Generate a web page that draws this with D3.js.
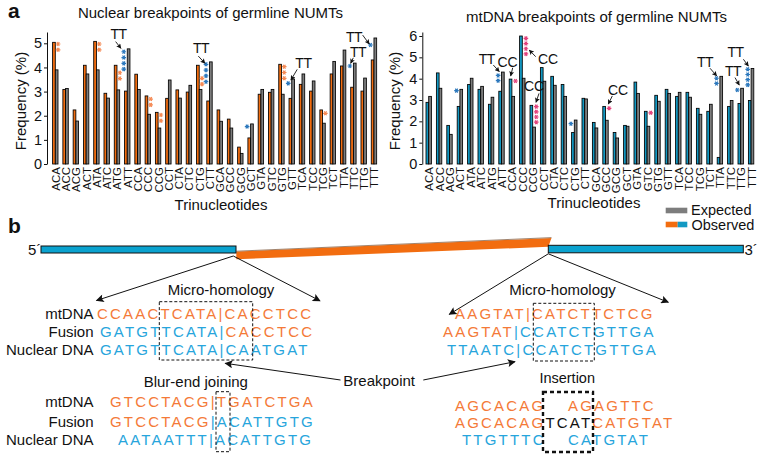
<!DOCTYPE html>
<html><head><meta charset="utf-8">
<script src="https://cdn.jsdelivr.net/npm/d3@7"></script>
<style>
body{margin:0;background:#fff;}
svg{display:block;font-family:"Liberation Sans",Arial,Helvetica,sans-serif;}
</style></head><body>
<svg id="c" width="765" height="461"></svg>
<script>
// ---------- DATA ----------
const categories = ["ACA","ACC","ACG","ACT","ATA","ATC","ATG","ATT","CCA","CCC","CCG","CCT","CTA","CTC","CTG","CTT","GCA","GCC","GCG","GCT","GTA","GTC","GTG","GTT","TCA","TCC","TCG","TCT","TTA","TTC","TTG","TTT"];
const nuclearObserved = [5.04,3.09,2.24,4.09,5.08,2.93,4.09,3.02,3.72,2.82,2.14,2.72,3.07,2.98,4.09,2.61,2.24,1.86,0.70,1.08,2.89,2.97,4.13,2.72,3.30,3.02,2.24,3.73,4.06,3.18,3.02,4.31];
const nuclearExpected = [3.90,3.13,1.78,3.73,3.90,2.73,3.07,4.77,3.09,2.06,1.49,3.48,2.73,3.26,3.09,4.23,1.77,1.49,0.44,1.66,3.09,3.09,2.89,3.52,3.73,3.44,1.69,4.25,4.72,4.18,3.56,5.22];
const mtObserved = [2.89,4.27,1.81,2.70,3.73,3.50,2.80,3.41,3.98,6.00,2.75,4.52,4.11,3.73,1.48,3.08,1.95,2.70,1.48,1.81,3.84,2.47,3.22,3.50,3.17,3.36,2.61,2.47,0.31,2.70,2.84,2.98];
const mtExpected = [3.17,3.55,1.39,3.50,4.02,3.64,3.13,4.31,3.17,4.02,1.73,3.88,3.69,3.17,2.06,3.05,1.69,2.05,1.22,1.77,3.31,1.77,2.94,3.31,3.36,3.13,2.33,2.80,4.11,2.98,3.55,4.48];
const nuclearTicks = [0,1,2,3,4,5];
const mtTicks = [0,1,2,3,4,5,6];
// significance stars: category, count, which bar ("obs" / "exp"), value where stack starts
const nuclearStars = [
  {cat:"ACA",n:2,on:"obs",v:4.97},{cat:"ATA",n:2,on:"obs",v:4.97},{cat:"ATG",n:2,on:"obs",v:3.78},
  {cat:"ATT",n:4,on:"exp",v:4.65},{cat:"CCC",n:2,on:"obs",v:2.69},{cat:"CCG",n:2,on:"obs",v:2.03},
  {cat:"CTG",n:2,on:"obs",v:3.55},{cat:"CTT",n:4,on:"exp",v:4.13},{cat:"GCT",n:1,on:"exp",v:1.55},
  {cat:"GTG",n:3,on:"obs",v:4.03},{cat:"GTT",n:1,on:"exp",v:3.34},{cat:"TCG",n:1,on:"obs",v:2.10},
  {cat:"TTC",n:1,on:"exp",v:4.06},{cat:"TTT",n:1,on:"exp",v:4.93}
];
const mtStars = [
  {cat:"ACT",n:1,on:"exp",v:3.44},{cat:"ATT",n:2,on:"exp",v:4.15},{cat:"CCA",n:1,on:"obs",v:3.89},
  {cat:"CCC",n:4,on:"obs",v:5.89},{cat:"CCG",n:4,on:"obs",v:2.69},{cat:"CTG",n:1,on:"exp",v:1.89},
  {cat:"GCC",n:1,on:"obs",v:2.61},{cat:"GTC",n:1,on:"obs",v:2.40},{cat:"TTA",n:2,on:"exp",v:4.02},
  {cat:"TTG",n:1,on:"exp",v:3.47},{cat:"TTT",n:4,on:"exp",v:4.44}
];
// dinucleotide callouts: category, label, then label / arrow positions (px offset from category centre, value)
const nuclearCallouts = [
  {cat:"ATT",t:"TT",l:[-8.8,5.17],a:[-11.6,5.07],b:[-6.3,4.79]},
  {cat:"CTT",t:"TT",l:[-8.5,4.59],a:[-11.2,4.47],b:[-4.5,4.17]},
  {cat:"GTT",t:"TT",l:[11.7,3.99],a:[5.5,3.92],b:[-0.8,3.48]},
  {cat:"TTC",t:"TT",l:[4.6,4.45],a:[-0.1,4.40],b:[-2.7,4.17]},
  {cat:"TTT",t:"TT",l:[-20,5.05],a:[-11.3,5.34],b:[-4.7,4.97]}
];
const mtCallouts = [
  {cat:"ATT",t:"TT",l:[-14.8,4.67],a:[-8.2,4.64],b:[-2.2,4.33]},
  {cat:"CCA",t:"CC",l:[-4.4,4.56],a:[0.8,4.51],b:[-1.2,4.13]},
  {cat:"CCC",t:"CC",l:[25.7,4.67],a:[13.4,5.03],b:[7,5.34]},
  {cat:"CCG",t:"CC",l:[1.3,3.42],a:[6.3,3.31],b:[3.3,2.89]},
  {cat:"GCC",t:"CC",l:[12.5,3.23],a:[6.8,3.19],b:[2.8,2.81]},
  {cat:"TTA",t:"TT",l:[-14.9,4.53],a:[-9.9,4.49],b:[-3.2,4.13]},
  {cat:"TTG",t:"TT",l:[-7.7,4.13],a:[-5.7,4.05],b:[-1.4,3.70]},
  {cat:"TTT",t:"TT",l:[-15.5,5.0],a:[-7.7,4.91],b:[-2.7,4.59]}
];
// sequences (o = mtDNA orange, b = nuclear blue, k = inserted black)
const rowLabels = ["mtDNA","Fusion","Nuclear DNA"];
const microLeftSeq = [[["CCAACTCATA|CACCTCC","o"]],[["GATGTTCATA|","b"],["CACCTCC","o"]],[["GATGTTCATA|CAATGAT","b"]]];
const microRightSeq = [[["AAGTAT|CATCTTCTCG","o"]],[["AAGTAT","o"],["|CCATCTGTTGA","b"]],[["TTAATC|CCATCTGTTGA","b"]]];
const bluntSeq = [[["GTCCTACG|TGATCTGA","o"]],[["GTCCTACG","o"],["|ACATTGTG","b"]],[["AATAATTT|ACATTGTG","b"]]];
const insertionSeq = [[["AGCACAG","o"],["AGAGTTC","o",1]],[["AGCACAG","o"],["TCAT","k"],["CATGTAT","o"]],[["TTGTTTC","b"],["CATGTAT","b",1]]];

// ---------- STYLE ----------
const FONT = '"Liberation Sans",Arial,Helvetica,sans-serif';
const C = {orange:"#f26d10", blue:"#1399c3", gray:"#7d7d7d",
  seqO:"#f47a38", seqB:"#27a5dc", starO:"#f58a55", starB:"#2c78bd", starP:"#e3427c",
  barB:"#0aa2cf"};
const svg = d3.select("#c");
const defs = svg.append("defs");
function marker(id,w,h){
  defs.append("marker").attr("id",id).attr("viewBox","0 0 10 10").attr("refX",9).attr("refY",5)
    .attr("markerWidth",w).attr("markerHeight",h).attr("markerUnits","userSpaceOnUse").attr("orient","auto")
    .append("path").attr("d","M0,0L10,5L0,10L2,5z").attr("fill","#111");
}
marker("ahS",5.5,5); marker("ahL",10,8);

function txt(x,y,s,size,opt={}){
  const t = svg.append("text").attr("x",x).attr("y",y).attr("font-size",size).attr("font-family",FONT)
    .attr("fill",opt.fill||"#111").attr("text-anchor",opt.anchor||"start").text(s);
  if(opt.bold) t.attr("font-weight","bold");
  if(opt.transform) t.attr("transform",opt.transform);
  return t;
}
function starPath(r){
  const t=r/2,u=t*Math.sqrt(3);
  return `M${-r},0L${r},0M${-t},${-u}L${t},${u}M${-t},${u}L${t},${-u}`;
}

// ---------- CHARTS ----------
function chart(cfg){
  const x = d3.scaleBand().domain(categories).range([cfg.x0,cfg.x1]);
  const y = d3.scaleLinear().domain([0,cfg.ymax]).range([164,32]);
  const cx = c => x(c)+x.bandwidth()/2;
  const bw = 2.7;
  const g = svg.append("g");
  g.selectAll("rect.o").data(categories).join("rect").attr("class","o")
    .attr("x",c=>cx(c)-bw).attr("y",(c,i)=>y(cfg.obs[i])).attr("width",bw)
    .attr("height",(c,i)=>y(0)-y(cfg.obs[i])).attr("fill",cfg.obsColor).attr("stroke","#000").attr("stroke-width",0.85);
  g.selectAll("rect.e").data(categories).join("rect").attr("class","e")
    .attr("x",c=>cx(c)).attr("y",(c,i)=>y(cfg.exp[i])).attr("width",bw)
    .attr("height",(c,i)=>y(0)-y(cfg.exp[i])).attr("fill",C.gray).attr("stroke","#000").attr("stroke-width",0.85);
  const ax = g.append("g").attr("transform",`translate(${cfg.axisX},0)`)
    .call(d3.axisLeft(y).tickValues(cfg.ticks).tickSize(3).tickSizeOuter(0).tickPadding(2).tickFormat(d3.format("d")))
    .attr("font-family",FONT).attr("font-size",14.5);
  ax.selectAll("text").attr("fill","#111");
  ax.selectAll("line,path").attr("stroke","#111");
  g.selectAll("text.xl").data(categories).join("text").attr("class","xl")
    .attr("transform",c=>`translate(${cx(c)+0.3},167) rotate(-90)`).attr("dy","0.36em")
    .attr("text-anchor","end").attr("font-size",11.5).attr("font-family",FONT).attr("fill","#111").text(c=>c);
  // stars
  cfg.stars.forEach(s=>{
    const dx = s.on==="obs" ? cfg.obsStarDx : cfg.expStarDx;
    const col = s.on==="obs" ? cfg.obsStarColor : C.starB;
    for(let k=0;k<s.n;k++){
      g.append("path").attr("d",starPath(2.3))
        .attr("transform",`translate(${cx(s.cat)+dx},${y(s.v)+k*cfg.starGap})`)
        .attr("stroke",col).attr("stroke-width",1.2).attr("fill","none");
    }
  });
  // callouts
  cfg.callouts.forEach(o=>{
    const c0 = cx(o.cat);
    g.append("text").attr("x",c0+o.l[0]).attr("y",y(o.l[1])).attr("text-anchor","middle")
      .attr("font-size",14).attr("font-family",FONT).attr("fill","#111")
      .attr("letter-spacing",o.t==="TT"?-0.5:0).text(o.t);
    g.append("line").attr("x1",c0+o.a[0]).attr("y1",y(o.a[1])).attr("x2",c0+o.b[0]).attr("y2",y(o.b[1]))
      .attr("stroke","#111").attr("stroke-width",0.9).attr("marker-end","url(#ahS)");
  });
}
chart({x0:50.16,x1:379.1,axisX:47,ymax:5.468,ticks:nuclearTicks,obs:nuclearObserved,exp:nuclearExpected,
  obsColor:C.orange,stars:nuclearStars,callouts:nuclearCallouts,obsStarDx:2.8,expStarDx:-3.5,obsStarColor:C.starO,starGap:5.8});
chart({x0:423.5,x1:756.3,axisX:422.3,ymax:6.188,ticks:mtTicks,obs:mtObserved,exp:mtExpected,
  obsColor:C.blue,stars:mtStars,callouts:mtCallouts,obsStarDx:3.6,expStarDx:-3.4,obsStarColor:C.starP,starGap:5.2});

txt(8,18,"a",21,{bold:true});
txt(210.5,18,"Nuclear breakpoints of germline NUMTs",15,{anchor:"middle"});
txt(596.5,21.5,"mtDNA breakpoints of germline NUMTs",15,{anchor:"middle"});
txt(0,0,"Frequency (%)",15,{anchor:"middle",transform:"translate(25.5,101) rotate(-90)"});
txt(0,0,"Frequency (%)",15,{anchor:"middle",transform:"translate(399.5,101) rotate(-90)"});
txt(221,209.5,"Trinucleotides",15,{anchor:"middle"});
txt(594,208,"Trinucleotides",15,{anchor:"middle"});
// legend
svg.append("rect").attr("x",665.7).attr("y",207.7).attr("width",21.6).attr("height",5.6).attr("fill",C.gray);
svg.append("rect").attr("x",665.7).attr("y",221.7).attr("width",12).attr("height",5.6).attr("fill",C.orange);
svg.append("rect").attr("x",677.7).attr("y",221.7).attr("width",9.6).attr("height",5.6).attr("fill",C.blue);
txt(691,215,"Expected",14.5);
txt(691.5,229.8,"Observed",14.5);

// ---------- PANEL b ----------
txt(8,233,"b",21,{bold:true});
svg.append("polygon").attr("points","236.3,251.6 551.5,238 548.3,246.8 236.3,259.3").attr("fill",C.orange);
svg.append("line").attr("x1",236.3).attr("y1",251.2).attr("x2",551.5).attr("y2",237.6).attr("stroke","#8a6a50").attr("stroke-width",0.8);
svg.append("rect").attr("x",41).attr("y",246).attr("width",195).attr("height",7).attr("fill",C.barB).attr("stroke","#111").attr("stroke-width",1);
svg.append("rect").attr("x",548.3).attr("y",245.3).attr("width",195).attr("height",7.5).attr("fill",C.barB).attr("stroke","#111").attr("stroke-width",1);
txt(28,254.5,"5\u00B4",15);
txt(744.5,254.5,"3\u00B4",15);
function arrow(x1,y1,x2,y2){
  svg.append("line").attr("x1",x1).attr("y1",y1).attr("x2",x2).attr("y2",y2)
    .attr("stroke","#111").attr("stroke-width",1).attr("marker-end","url(#ahL)");
}
arrow(233.3,256,96.5,300.5); arrow(233.3,256,320,300.8);
arrow(548.3,253.8,449.3,314.3); arrow(548.3,253.8,668.3,302.3);
arrow(340.5,380,225.3,363.3); arrow(423.3,380,515,361.7);

txt(221,294.5,"Micro-homology",15,{anchor:"middle"});
txt(562.5,294.5,"Micro-homology",15,{anchor:"middle"});
txt(195.8,386.5,"Blur-end joining",15,{anchor:"middle"});
txt(343.3,385.8,"Breakpoint",15);
txt(567.2,383.2,"Insertion",14.5,{anchor:"middle"});

const colorOf = {o:C.seqO,b:C.seqB,k:"#111"};
function seqRow(x,y,segs,jumpX){
  const t = svg.append("text").attr("x",x).attr("y",y).attr("font-size",15).attr("font-family",FONT)
    .attr("letter-spacing",2.2);
  segs.forEach(s=>{
    const sp = t.append("tspan").attr("fill",colorOf[s[1]]).text(s[0]);
    if(s[2]) sp.attr("x",jumpX);
  });
}
const topY = [319,337,355];
rowLabels.forEach((l,i)=>txt(93.5,topY[i],l,15,{anchor:"end"}));
[97,100,100].forEach((x,i)=>seqRow(x,topY[i],microLeftSeq[i]));
[455,443,447].forEach((x,i)=>seqRow(x,topY[i],microRightSeq[i]));
const bluntY = [406.6,427.2,445];
rowLabels.forEach((l,i)=>txt(93.5,bluntY[i],l,15,{anchor:"end"}));
[110,110,118].forEach((x,i)=>seqRow(x,bluntY[i],bluntSeq[i]));
const insY = [410.5,428.3,445.3];
[455,455,462].forEach((x,i)=>seqRow(x,insY[i],insertionSeq[i],568));

function box(x,y,w,h,sw,dash){
  svg.append("rect").attr("x",x).attr("y",y).attr("width",w).attr("height",h).attr("fill","none")
    .attr("stroke","#111").attr("stroke-width",sw).attr("stroke-dasharray",dash);
}
box(159.3,301.7,93.4,58.3,1,"3,2");
box(533.3,303.3,61,57.7,1,"3,2");
box(216,391.7,14,60,1,"3,2");
box(543,392,50,60,2.4,"4,3");
</script>
</body></html>
